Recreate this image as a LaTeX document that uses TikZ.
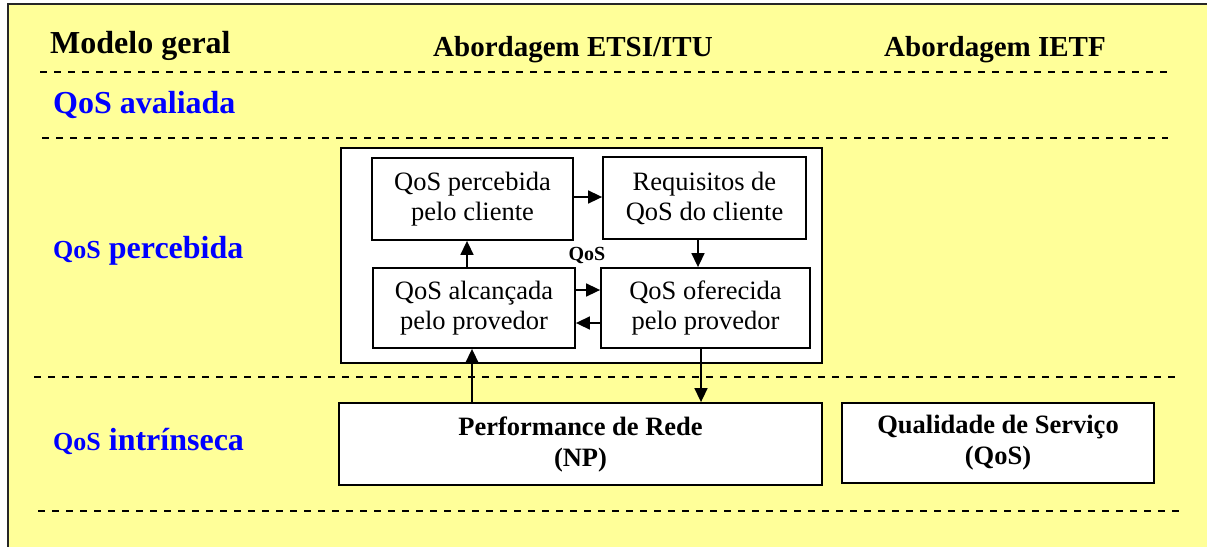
\documentclass[tikz,border=0pt]{standalone}
\usepackage{fontspec}
\setmainfont{Liberation Serif}
\usetikzlibrary{arrows.meta,calc}
\definecolor{bgyellow}{RGB}{255,255,153}
\definecolor{qblue}{RGB}{0,0,255}
\begin{document}
\begin{tikzpicture}[x=1pt,y=-1pt,
  box/.style={draw=black,line width=1.8pt,fill=white,inner sep=0pt,align=center,
    font=\fontsize{26.5}{30}\selectfont},
  bbox/.style={box,font=\fontsize{26.5}{31}\selectfont\bfseries},
  arr/.style={line width=1.6pt,-{Triangle[length=14pt,width=13pt]}},
  sep/.style={dashed,dash pattern=on 7pt off 7pt,line width=1.6pt},
  hdr/.style={anchor=base,font=\fontsize{29}{32}\selectfont\bfseries},
  lvl/.style={anchor=base west,text=qblue,font=\fontsize{32}{36}\selectfont\bfseries,inner sep=0pt}
]
\useasboundingbox (0,0) rectangle (1207,546);
\fill[white] (0,0) rectangle (1207,546);
\draw[line width=1.6pt,draw=black!85,fill=bgyellow] (8,4) rectangle (1225,565);

% separators
\draw[sep] (40,72) -- (1168,72);
\draw[sep] (42,138) -- (1168,138);
\draw[sep] (34,377) -- (1177,377);
\draw[sep] (38,511) -- (1179,511);

% headers
\node[anchor=base west,inner sep=0pt,font=\fontsize{32}{36}\selectfont\bfseries] (hmodel) at (50,53) {Modelo geral};
\node[hdr] (hetsi) at (573,56) {Abordagem ETSI/ITU};
\node[hdr] (hietf) at (995,56) {Abordagem IETF};

% levels
\node[lvl] (lav) at (53,113) {QoS avaliada};
\node[lvl] (lper) at (53,258) {{\fontsize{26}{30}\selectfont QoS} percebida};
\node[lvl] (lint) at (53,450) {{\fontsize{26}{30}\selectfont QoS} intrínseca};

% outer white box
\node[draw=black,line width=1.3pt,fill=white,minimum width=481pt,minimum height=215pt,inner sep=0pt] (outer) at (581.5,255.5) {};

% inner boxes
\node[box,minimum width=201pt,minimum height=82pt] (b1) at (472.5,199) {QoS percebida\\pelo cliente};
\node[box,minimum width=203pt,minimum height=82pt] (b2) at (704.5,198) {Requisitos de\\QoS do cliente};
\node[box,minimum width=202pt,minimum height=80pt] (b3) at (474,308) {QoS alcançada\\pelo provedor};
\node[box,minimum width=209pt,minimum height=80pt] (b4) at (705.5,308) {QoS oferecida\\pelo provedor};
\node[anchor=base,inner sep=0pt,font=\fontsize{20}{22}\selectfont\bfseries] (qlab) at (587,260) {QoS};

% bottom boxes
\node[bbox,minimum width=483pt,minimum height=82pt] (np) at (580.5,444) {Performance de Rede\\(NP)};
\node[bbox,minimum width=312pt,minimum height=80pt] (qos) at (998,443) {Qualidade de Serviço\\(QoS)};

% arrows
\draw[arr] ([yshift=2]b1.east) -- ([yshift=2]b1.east -| b2.west);
\draw[arr] ([xshift=-6.5]b2.south) -- ([xshift=-6.5]b2.south |- b4.north);
\draw[arr] ([xshift=-7]b3.north) -- ([xshift=-7]b3.north |- b1.south);
\draw[arr] ([yshift=18]b3.east) -- ([yshift=18]b3.east -| b4.west);
\draw[arr] ([yshift=-15]b4.west) -- ([yshift=-15]b4.west -| b3.east);
\draw[arr] ([xshift=-2]b3.south |- np.north) -- ([xshift=-2]b3.south);
\draw[arr] ([xshift=-4.5]b4.south) -- ([xshift=-4.5]b4.south |- np.north);
\end{tikzpicture}
\end{document}
